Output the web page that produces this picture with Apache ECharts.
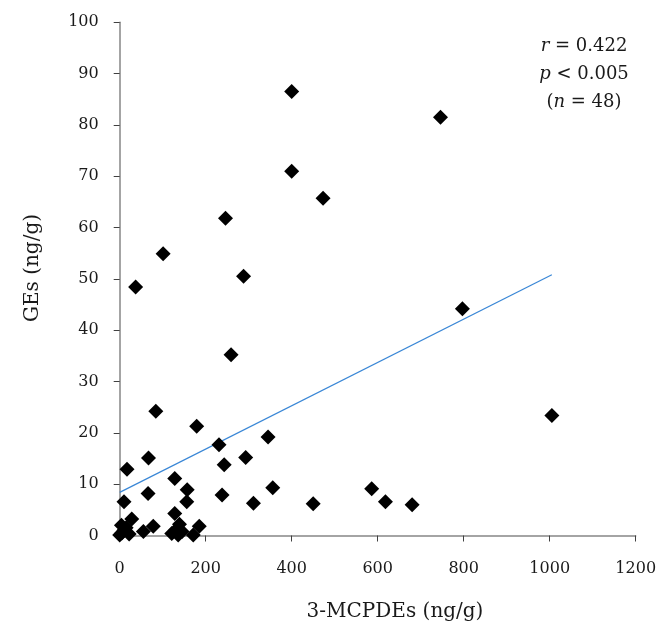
<!DOCTYPE html>
<html>
<head>
<meta charset="utf-8">
<script src="https://cdn.jsdelivr.net/npm/echarts@6/dist/echarts.min.js"></script>
<style>
html,body{margin:0;padding:0;background:#fff;}
#chart{width:661px;height:632px;}
</style>
</head>
<body>
<div id="chart"></div>
<script>
// 3-MCPDEs (ng/g) values
var mcpdeValues = [400, 746, 400, 473, 246, 101, 288, 37, 797, 259, 84, 1005, 179, 345, 231, 67, 293, 243, 17, 128,
  356, 586, 157, 66, 238, 156, 10, 618, 311, 450, 680, 128, 28, 4, 78, 139, 185, 55, 0, 22,
  121, 136, 171, 10, 15, 5, 130, 145];
// GEs (ng/g) values
var geValues = [86.5, 81.5, 71.0, 65.7, 61.8, 54.9, 50.5, 48.4, 44.2, 35.2, 24.2, 23.4, 21.3, 19.2, 17.7, 15.1, 15.2, 13.8, 12.9, 11.1,
  9.3, 9.1, 8.9, 8.2, 7.9, 6.6, 6.6, 6.6, 6.3, 6.2, 6.0, 4.3, 3.2, 2.0, 1.8, 2.2, 1.8, 0.8, 0.1, 0.3,
  0.4, 0.1, 0.1, 1.0, 1.5, 0.5, 1.0, 0.8];
// Linear trend line endpoints
var trendX = [0, 1005];
var trendY = [8.4, 50.8];
// Axis ticks
var xTicks = [0, 200, 400, 600, 800, 1000, 1200];
var yTicks = [0, 10, 20, 30, 40, 50, 60, 70, 80, 90, 100];
var statLines = ['{i|r} = 0.422', '{i|p} < 0.005', '({i|n} = 48)'];

var scatterData = mcpdeValues.map(function (x, i) { return [x, geValues[i]]; });
var trendData = trendX.map(function (x, i) { return [x, trendY[i]]; });

var font = 'DejaVu Serif';
var chart = echarts.init(document.getElementById('chart'), null, {renderer: 'canvas'});
chart.setOption({
  animation: false,
  backgroundColor: '#ffffff',
  grid: {left: 119.7, right: 25.3, top: 22.3, bottom: 96.5, containLabel: false},
  xAxis: {
    type: 'value', min: xTicks[0], max: xTicks[xTicks.length - 1], interval: 200,
    splitLine: {show: false},
    axisLine: {show: true, onZero: false, lineStyle: {color: '#868686', width: 1.5}},
    axisTick: {show: true, inside: false, length: 6, lineStyle: {color: '#404040', width: 1}},
    axisLabel: {margin: 25, color: '#1a1a1a', fontFamily: font, fontSize: 16,
      formatter: function (v) { return String(v); }}
  },
  yAxis: {
    type: 'value', min: yTicks[0], max: yTicks[yTicks.length - 1], interval: 10,
    splitLine: {show: false},
    axisLine: {show: true, onZero: false, lineStyle: {color: '#868686', width: 1.5}},
    axisTick: {show: true, inside: false, length: 6, lineStyle: {color: '#404040', width: 1}},
    axisLabel: {margin: 21, color: '#1a1a1a', fontFamily: font, fontSize: 16,
      formatter: function (v) { return String(v); }}
  },
  graphic: [
    {type: 'text', x: 395, y: 612, style: {text: '3-MCPDEs (ng/g)', font: '20px "DejaVu Serif"', fill: '#1a1a1a', textAlign: 'center', textVerticalAlign: 'middle'}},
    {type: 'text', x: 33, y: 268, rotation: Math.PI / 2, style: {text: 'GEs (ng/g)', font: '20px "DejaVu Serif"', fill: '#1a1a1a', textAlign: 'center', textVerticalAlign: 'middle'}},
    {type: 'text', x: 584, y: 74, style: {
      text: statLines.join('\n'), font: '18px "DejaVu Serif"', fill: '#1a1a1a', textAlign: 'center', textVerticalAlign: 'middle', lineHeight: 28,
      rich: {i: {fontStyle: 'italic', fontFamily: font, fontSize: 18, fill: '#1a1a1a', lineHeight: 28}}
    }}
  ],
  series: [
    {
      type: 'line', data: trendData, symbol: 'none', silent: true,
      lineStyle: {color: '#3a87d6', width: 1.2}, z: 1
    },
    {
      type: 'scatter', data: scatterData, symbol: 'diamond', symbolSize: 15,
      itemStyle: {color: '#000000', opacity: 1}, z: 2
    }
  ]
});
</script>
</body>
</html>
